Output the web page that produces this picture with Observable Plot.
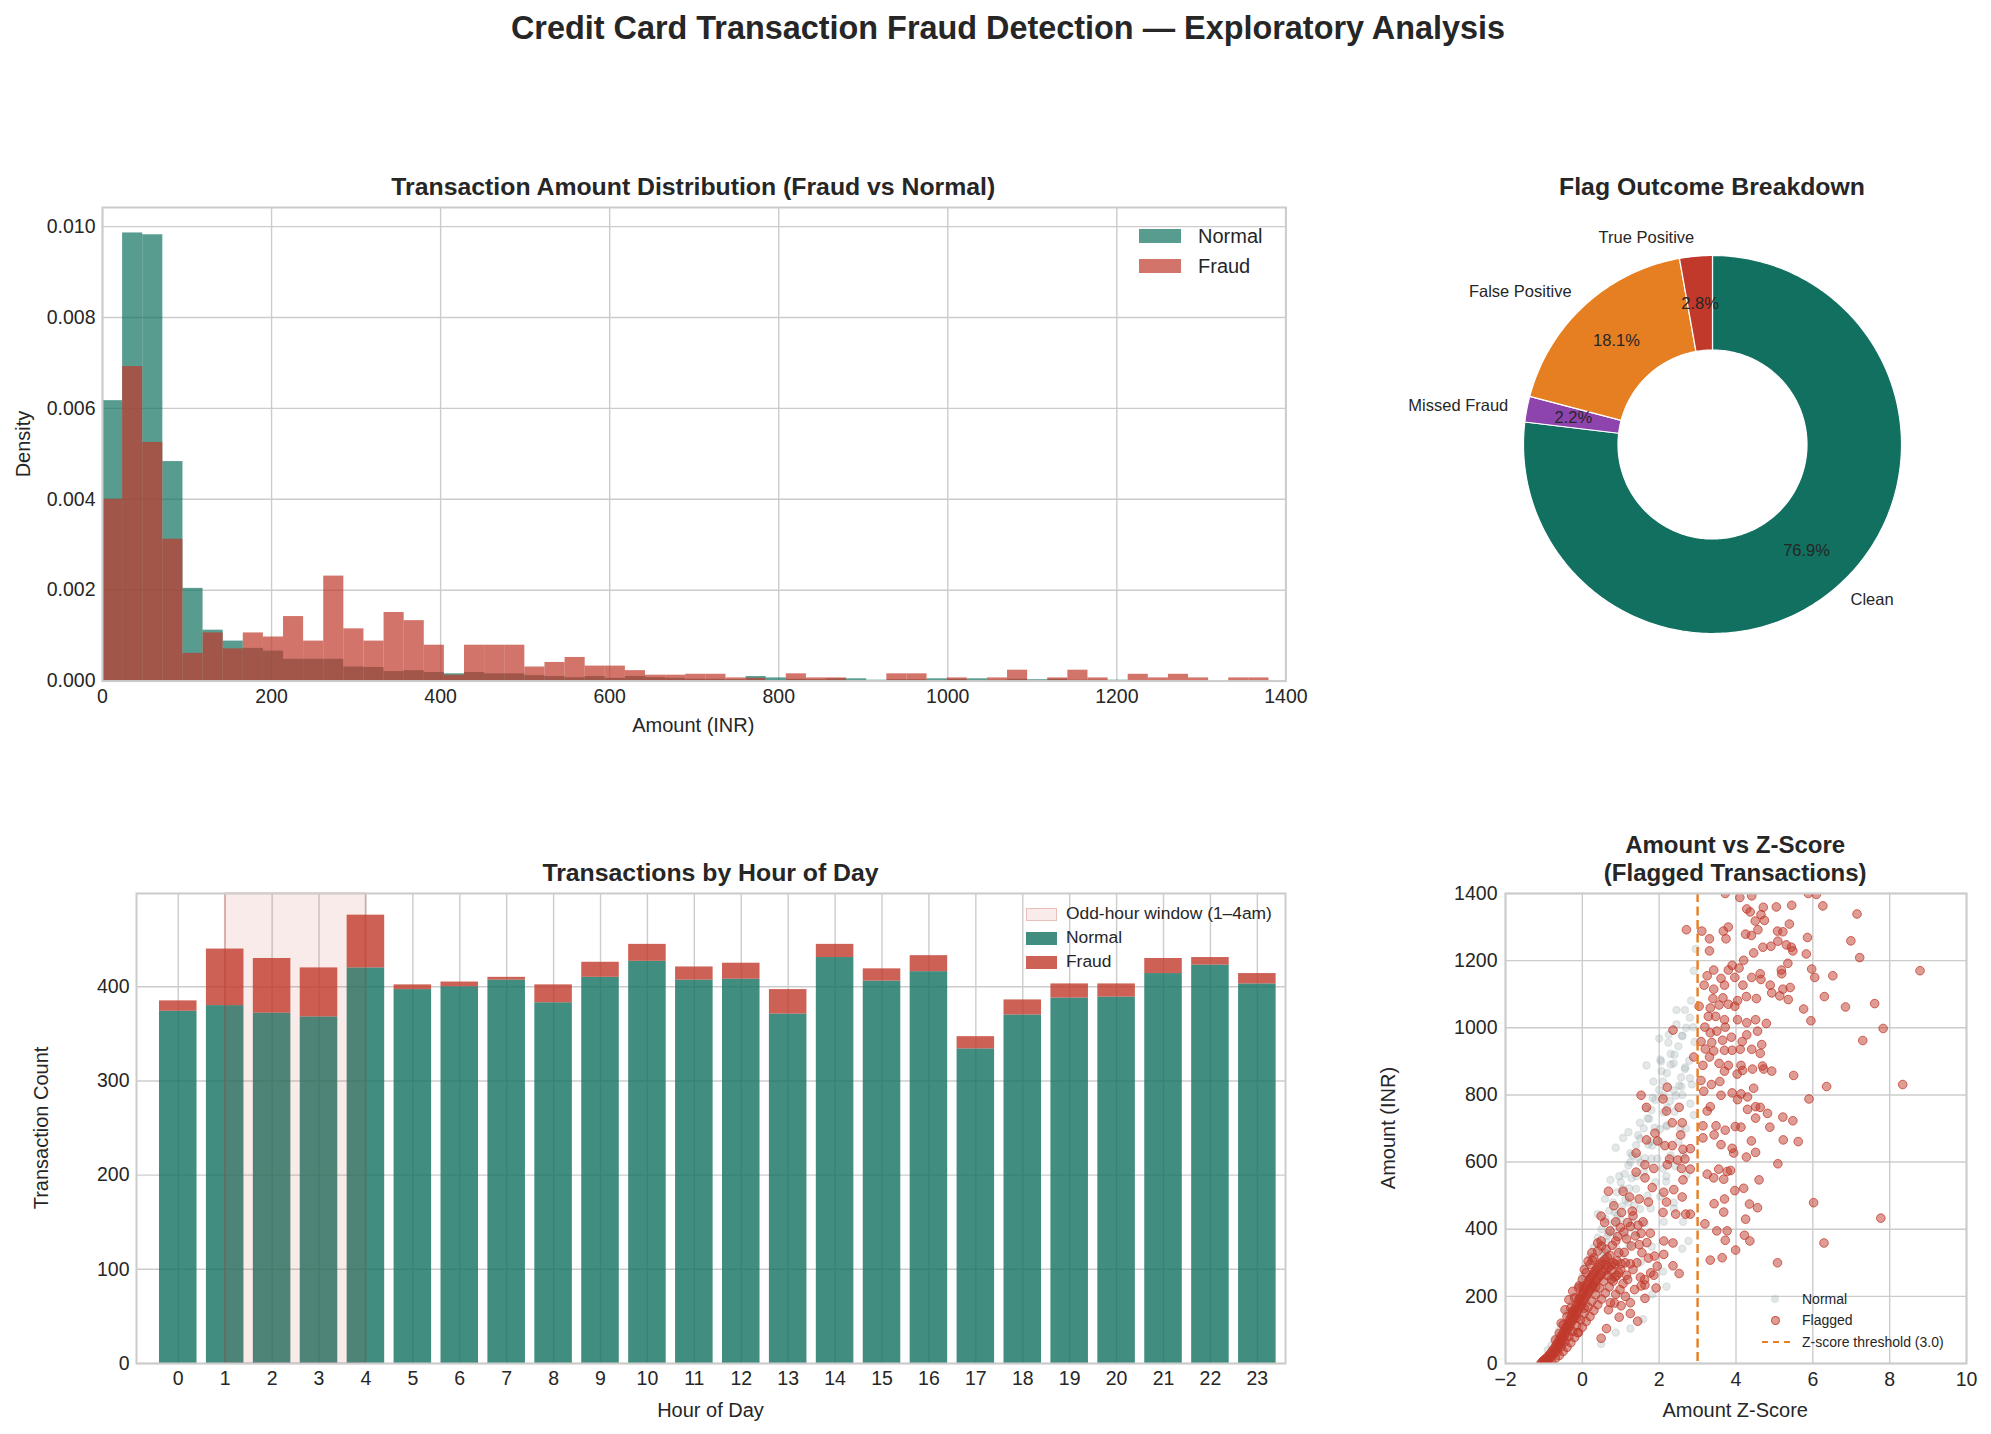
<!DOCTYPE html>
<html><head><meta charset="utf-8">
<script src="https://cdn.jsdelivr.net/npm/d3@7"></script>
<script src="https://cdn.jsdelivr.net/npm/@observablehq/plot@0.6"></script>
<style>
body{margin:0;background:#fff;}
#fig{position:relative;width:1991px;height:1434px;font-family:"Liberation Sans",Arial,Helvetica,sans-serif;color:#262626;overflow:hidden;background:#fff}
.t{position:absolute;white-space:nowrap;line-height:1;}
svg{overflow:visible}
</style></head><body><div id="fig"></div>
<script>
// ---------------- DATA ----------------
const histMax = 1380;
const histBins = 58;
const normalDensity = [0.00617,0.00986,0.00982,0.00483,0.00204,0.00112,0.00088,0.00072,0.00066,0.00048,
 0.00048,0.00048,0.00031,0.00030,0.00021,0.00023,0.00019,0.00016,0.00019,0.00016,
 0.00016,0.00012,0.00010,0.000075,0.00010,0.00006,0.00010,0.000075,0.00006,0.00004,
 0.00004,0.00003,0.00010,0.00007,0.00004,0.00003,0.00005,0.00005,0.00002,0.00003,
 0.00003,0.00005,0.00004,0.00005,0.00002,0.00004,0.00003,0.00004,0.00002,0.00002,
 0.00002,0,0,0,0,0,0,0];
const fraudDensity = [0.0040,0.00692,0.00525,0.00312,0.00061,0.00106,0.00071,0.00106,0.00097,0.00142,
 0.00088,0.00231,0.00115,0.00088,0.00151,0.00133,0.00079,0.00013,0.00079,0.00079,
 0.00079,0.00031,0.00041,0.00052,0.00033,0.00033,0.00023,0.00013,0.00013,0.00015,
 0.00015,0.00007,0.00006,0,0.00016,0.00007,0.00007,0,0,0.00016,
 0.00016,0,0.00007,0,0.00007,0.00024,0,0.00007,0.00024,0.00007,
 0,0.00015,0.00007,0.00015,0.00007,0,0.00007,0.00007];
const histXTicks = [0,200,400,600,800,1000,1200,1400];
const histYTicks = [0,0.002,0.004,0.006,0.008,0.010];

const pieLabels = ["Clean","Missed Fraud","False Positive","True Positive"];
const pieValues = [76.9,2.2,18.1,2.8];
const pieColors = ["#117060","#8e44ad","#e67e22","#c0392b"];

const hours = [0,1,2,3,4,5,6,7,8,9,10,11,12,13,14,15,16,17,18,19,20,21,22,23];
const normalCounts = [374,380,372,368,420,397,400,407,383,410,427,407,408,371,431,406,416,334,370,388,389,414,423,403];
const fraudCounts  = [11,60,58,52,56,5,5,3,19,16,18,14,17,26,14,13,17,13,16,15,14,16,8,11];
const hourYTicks = [0,100,200,300,400];
const oddHourWindow = [1,4];

const scatterXTicks = [-2,0,2,4,6,8,10];
const scatterYTicks = [0,200,400,600,800,1000,1200,1400];
const zThreshold = 3.0;
// normal transactions (z, amount)
const normalPoints = [
[2.95,1235],[2.9,1170],[2.83,1081],[2.45,1053],[2.67,1053],[2.6,977],[2.24,956],[2.0,968],[2.3,922],[2.38,894],
[2.03,905],[1.67,888],[2.06,871],[2.67,877],[2.85,831],[2.81,774],[2.58,825],[2.38,814],[2.12,797],[1.83,791],
[1.5,717],[1.74,729],[1.06,672],[1.2,689],[0.87,643],[1.44,615],[1.25,627],[0.73,547],[0.96,558],[0.59,490],
[0.4,445],[2.19,706],[1.82,649],[2.19,558],[2.38,479],[2.62,422],[2.76,365],[2.6,342],[2.19,229],[2.1,274],
[1.82,206],[1.58,132],[1.25,104],[0.87,92],[0.49,58],
[-0.9,40],[-0.8,55],[-0.7,75],[-0.6,100],[-0.5,120],[-0.4,150],[-0.3,175],[-0.2,200],[-0.1,235],[0.0,260],
[0.1,290],[0.2,320],[0.3,345],[0.4,375],[0.5,400],[0.6,430],[0.7,455],[0.8,480],[0.9,510],[1.0,540],
[1.1,565],[1.2,590],[1.3,620],[1.4,650],[1.5,670],[1.6,700],[1.7,730],[1.8,755],[1.9,785],[2.0,815],
[2.1,840],[2.2,865],[2.3,890],[2.4,920],[2.5,945],[2.6,975],[2.7,1000],[2.8,1030],
[-0.3,100],[-0.1,140],[0.1,180],[0.3,220],[0.5,260],[0.7,300],[0.9,340],[1.1,380],[1.3,420],[1.5,460],
[1.7,500],[1.9,540],[2.1,580],[2.3,620],[2.5,660],[2.7,700],[2.9,740],
[0.2,230],[0.4,280],[0.6,330],[0.8,390],[1.0,430],[1.2,480],[1.4,520],[1.6,570],[1.8,610],[2.0,660],
[2.2,710],[2.4,750],[2.6,800],[2.8,850],
[0.62,362],[0.81,418],[1.03,468],[1.22,522],[1.41,558],[1.63,612],[1.79,662],[2.02,698],[2.21,762],[2.43,798],
[2.57,852],[2.78,902],[2.92,958],
[1.02,318],[1.22,352],[1.38,392],[1.62,418],[1.78,462],[2.03,498],[2.18,542],[2.42,588],[2.63,622],[1.52,302],
[1.81,348],[2.12,422],[2.38,462],[2.72,562],
[0.33,268],[0.52,332],[0.68,388],[0.92,442],[1.12,488],[1.28,552],[1.52,598],[1.72,652],[1.88,702],[2.12,748],
[2.28,782],[2.52,828],[2.68,882],[2.88,1002],
[-0.5,60],[-0.7,40],[-0.2,130],[0.0,170],[0.2,250],[0.45,310],[0.65,380],[0.85,450],[1.05,520],[1.25,600],
[1.45,680],[1.65,760],[1.85,840],[2.05,900],[2.25,980],[2.45,1010],[1.35,470],[1.95,610],[2.55,700],[0.75,260]
];
// flagged transactions (z, amount)
const flaggedPoints = [
[3.72,1400],[4.10,1388],[4.41,1393],[5.88,1400],[6.09,1397],[6.26,1363],[5.45,1365],[5.05,1360],[4.28,1354],[4.37,1345],
[4.71,1359],[4.65,1337],[4.74,1320],[4.50,1318],[5.39,1309],[7.15,1339],[2.71,1292],[3.11,1288],[3.67,1288],[3.80,1300],
[3.74,1265],[3.31,1265],[3.31,1229],[4.25,1279],[4.40,1275],[4.57,1292],[5.08,1288],[5.22,1286],[5.09,1258],[5.86,1269],
[5.44,1240],[5.48,1229],[5.31,1247],[5.83,1220],[6.99,1259],[7.22,1209],[8.79,1170],[6.52,1155],[5.97,1175],[6.05,1150],
[6.30,1093],[7.61,1072],[6.85,1062],[5.76,1056],[5.95,1021],[7.83,998],[7.30,962],[5.50,858],[6.36,825],[8.34,831],
[5.90,788],[5.48,723],[5.22,734],[5.62,661],[5.23,666],[5.09,595],[6.02,479],[7.77,433],[6.29,359],[5.08,300],
[3.33,308],[3.64,315],[3.99,338],[4.36,365],[4.22,382],[3.72,367],[3.50,395],[3.77,395],[3.19,416],[3.43,476],
[3.68,451],[3.70,490],[3.97,515],[4.20,522],[4.56,464],[4.25,430],[4.35,475],[4.60,547],[3.25,564],[3.55,579],
[3.77,572],[3.86,575],[3.42,553],[3.68,549],[4.27,615],[4.51,629],[3.94,627],[3.90,641],[3.61,652],[3.43,681],
[3.14,672],[3.14,708],[3.48,708],[3.72,695],[3.98,706],[4.13,704],[4.40,663],[4.51,731],[4.82,745],[4.88,704],
[4.51,765],[4.63,763],[4.30,757],[4.04,786],[3.90,806],[4.13,803],[4.30,794],[4.46,820],[3.61,799],[3.33,765],
[3.25,752],[3.16,811],[3.09,843],[3.36,831],[3.58,840],[3.70,871],[4.03,862],[4.17,873],[4.43,877],[4.72,877],
[4.93,871],[4.69,886],[4.13,888],[3.80,888],[3.56,894],[3.31,913],[3.14,888],[3.20,937],[3.42,931],[3.70,933],
[3.90,933],[4.11,936],[4.41,936],[4.63,924],[4.67,950],[3.09,959],[3.37,956],[3.65,963],[3.88,972],[4.16,959],
[4.28,979],[4.56,990],[4.79,1013],[4.51,1024],[4.28,1015],[4.04,1024],[3.70,1024],[3.47,1034],[3.28,1034],[3.19,1002],
[3.33,985],[3.50,990],[3.72,1002],[3.04,1064],[3.33,1059],[3.56,1068],[3.80,1070],[3.97,1064],[3.40,1087],[3.66,1089],
[4.04,1081],[4.27,1093],[4.53,1087],[4.93,1104],[5.14,1095],[5.36,1084],[5.41,1120],[5.22,1115],[4.89,1127],[4.65,1144],
[4.41,1150],[4.18,1127],[3.97,1150],[3.80,1172],[3.61,1147],[3.42,1115],[3.17,1127],[3.25,1155],[3.42,1172],[3.70,1127],
[3.90,1186],[4.08,1178],[4.20,1201],[4.46,1223],[4.70,1240],[4.91,1243],[4.63,1161],[5.19,1161],[5.18,1172],[5.35,1192],
[2.36,993],[2.90,913],[2.21,823],[1.53,799],[1.67,763],[2.19,752],[2.52,763],[2.10,788],[2.34,717],[2.60,717],
[2.56,681],[2.15,649],[1.89,686],[1.96,663],[1.67,666],[2.34,649],[2.81,640],[2.62,638],[2.67,609],[2.48,606],
[2.27,609],[2.81,579],[2.58,581],[2.21,592],[1.86,581],[1.63,592],[1.40,627],[1.40,570],[1.63,553],[1.82,524],
[2.12,510],[2.38,518],[2.62,547],[2.60,496],[2.81,445],[2.69,445],[2.43,445],[2.10,450],[2.19,481],[1.72,481],
[1.48,490],[1.30,454],[1.58,422],[1.25,408],[1.06,513],[1.23,496],[0.68,513],[0.49,439],[1.53,388],[1.77,388],
[1.48,354],[1.72,314],[2.12,365],[2.36,359],[2.12,325],[2.36,291],[2.52,268],[1.86,263],[1.63,234],[1.53,231],
[1.63,194],[1.51,257],[1.25,297],[1.15,263],[1.06,238],[1.25,181],[1.44,126],[1.25,149],[0.96,138],[0.73,181],
[0.49,75],[0.63,104],[0.87,206],[1.01,172],[0.76,251],[1.01,297],[1.09,331],[0.87,365],[1.15,371],[0.99,405],
[0.87,422],[0.49,365],[0.40,359],[0.26,308],[0.02,229],[-0.08,194],[-0.08,231],[-0.26,155],[-0.12,92],
[0.62,340],[0.78,352],[0.92,378],[1.08,392],[1.18,420],[1.32,440],[0.72,395],[0.95,330],[1.12,300],[1.28,350],
[1.38,380],[1.45,412],[1.02,450],[0.82,470],[0.58,420],[1.18,250],[1.32,280],[1.42,300],[1.55,330],[1.68,360],
[1.88,320],[1.95,290],[1.78,270],[0.98,220],[1.12,200],[0.84,180],[0.68,160],[1.36,220],[1.62,250],[1.92,225],
[-1.08,0],[-1.05,4],[-1.02,8],[-1.0,3],[-0.98,12],[-0.96,6],[-0.94,16],[-0.92,10],[-0.9,20],[-0.88,14],
[-0.86,26],[-0.84,18],[-0.82,30],[-0.8,22],[-0.79,36],[-0.77,28],[-0.75,42],[-0.73,33],[-0.71,48],[-0.7,38],
[-0.68,55],[-0.66,44],[-0.64,60],[-0.63,50],[-0.61,68],[-0.6,57],[-0.58,74],[-0.56,62],[-0.55,82],[-0.53,70],
[-0.51,88],[-0.5,76],[-0.48,95],[-0.46,84],[-0.45,104],[-0.43,90],[-0.41,110],[-0.4,98],[-0.38,118],[-0.36,105],
[-0.35,126],[-0.33,112],[-0.31,134],[-0.3,120],[-0.28,142],[-0.26,128],[-0.25,150],[-0.23,136],[-0.21,158],[-0.2,140],
[-0.18,166],[-0.16,148],[-0.15,175],[-0.13,156],[-0.11,182],[-0.1,162],[-0.08,190],[-0.06,170],[-0.05,198],[-0.03,176],
[-0.01,205],[0.0,184],[0.02,212],[0.04,190],[0.05,220],[0.07,196],[0.09,228],[0.1,202],[0.12,236],[0.14,208],
[0.15,244],[0.17,214],[0.19,250],[0.2,220],[0.22,256],[0.24,226],[0.25,262],[0.27,232],[0.29,268],[0.3,238],
[0.32,274],[0.34,244],[0.36,280],[0.38,250],[0.4,286],[0.42,256],[0.44,292],[0.46,262],[0.48,298],[0.5,268],
[0.53,304],[0.56,274],[0.59,310],[0.62,280],[0.65,316],[0.68,286],[0.72,322],[0.76,292],[0.8,300],[0.85,296],
[0.9,306],[0.95,270],
[-0.9,2],[-0.8,8],[-0.7,15],[-0.6,24],[-0.5,36],[-0.4,48],[-0.3,62],[-0.2,78],[-0.1,92],[0.0,108],
[0.1,125],[0.2,140],[0.3,158],[0.4,175],[0.5,192],[0.6,210],[0.7,228],[0.8,245],[0.9,262],[1.0,280],
[-0.7,70],[-0.6,90],[-0.5,115],[-0.4,140],[-0.3,165],[-0.2,195],[-0.1,225],[0.0,250],[0.1,270],[0.2,295],
[0.3,315],[0.4,335],[0.5,350],[-0.35,190],[-0.25,215],[-0.45,160],[-0.55,120],[0.05,280],[0.15,305],[0.25,330],
[-0.65,35],[-0.55,50],[-0.45,65],[-0.35,80],[-0.25,96],[-0.15,112],[-0.05,130],[0.05,150],[0.15,168],[0.25,185],
[0.35,205],[0.45,225],[0.55,245],[0.65,262],[0.75,278],[0.85,258],[-0.15,135],[0.05,165],[0.35,228],[0.6,295]
];

// ---------------- STYLE ----------------
const FONT = '"Liberation Sans", Arial, Helvetica, sans-serif';
const TEAL = "#117060", RED = "#c0392b", ORANGE = "#e67e22", GRID = "#cccccc", INK = "#262626";
const fig = document.getElementById("fig");
const plain = d => String(d);

function text(s, x, y, size, opts = {}) {
  const d = document.createElement("div");
  d.className = "t";
  d.textContent = s;
  d.style.left = x + "px"; d.style.top = y + "px";
  d.style.fontSize = size + "px";
  if (opts.bold) d.style.fontWeight = "bold";
  const ax = opts.anchor === "start" ? "0" : "-50%";
  d.style.transform = opts.rotate ? `translate(-50%,-50%) rotate(${opts.rotate}deg)` : `translate(${ax},-50%)`;
  fig.appendChild(d);
  return d;
}
function box(x, y, w, h, css) {
  const d = document.createElement("div");
  d.style.position = "absolute";
  d.style.left = x + "px"; d.style.top = y + "px";
  d.style.width = w + "px"; d.style.height = h + "px";
  Object.assign(d.style, css);
  fig.appendChild(d);
  return d;
}
const ML = 90, MR = 12, MT = 12, MB = 44;
function panel(fx, fy, fw, fh, opts) {
  const p = Plot.plot(Object.assign({
    width: fw + ML + MR, height: fh + MT + MB,
    marginLeft: ML, marginRight: MR, marginTop: MT, marginBottom: MB,
    style: {fontSize: "19.5px", fontFamily: FONT, color: INK, background: "transparent", overflow: "visible"}
  }, opts));
  p.style.position = "absolute";
  p.style.left = (fx - ML) + "px";
  p.style.top = (fy - MT) + "px";
  fig.appendChild(p);
  return p;
}
const gridMarks = (xt, yt) => [
  Plot.ruleX(xt, {stroke: GRID, strokeWidth: 1.4, strokeOpacity: 1}),
  Plot.ruleY(yt, {stroke: GRID, strokeWidth: 1.4, strokeOpacity: 1})
];

// ---------------- SUPTITLE ----------------
text("Credit Card Transaction Fraud Detection — Exploratory Analysis", 1008, 28, 32.4, {bold: true});

// ---------------- HISTOGRAM ----------------
const binW = histMax / histBins;
const histData = normalDensity.map((d, i) => ({x1: i * binW, x2: (i + 1) * binW, normal: d, fraud: fraudDensity[i]}));
{
  const fx = 101.6, fy = 207, fw = 1183.4, fh = 473.6;
  panel(fx, fy, fw, fh, {
    x: {domain: [0, 1400]},
    y: {domain: [0, 0.01042]},
    marks: [
      ...gridMarks(histXTicks, histYTicks),
      Plot.rect(histData, {x1: "x1", x2: "x2", y1: 0, y2: "normal", fill: TEAL, fillOpacity: 0.7}),
      Plot.rect(histData, {x1: "x1", x2: "x2", y1: 0, y2: "fraud", fill: RED, fillOpacity: 0.7}),
      Plot.frame({stroke: GRID, strokeWidth: 2}),
      Plot.axisX(histXTicks, {tickSize: 0, tickPadding: 8, label: null, tickFormat: plain}),
      Plot.axisY(histYTicks, {tickSize: 0, tickPadding: 7, label: null, tickFormat: d3.format(".3f")})
    ]
  });
  text("Transaction Amount Distribution (Fraud vs Normal)", fx + fw / 2, 187, 24.8, {bold: true});
  text("Amount (INR)", fx + fw / 2, 725, 20);
  text("Density", 23, fy + fh / 2, 20, {rotate: -90});
  box(1139, 229, 42, 14, {background: TEAL, opacity: 0.7});
  box(1139, 259, 42, 14, {background: RED, opacity: 0.7});
  text("Normal", 1198, 236, 20, {anchor: "start"});
  text("Fraud", 1198, 266, 20, {anchor: "start"});
}

// ---------------- PIE / DONUT ----------------
{
  const cx = 1712, cy = 444, R = 189, S = 620;
  const k = (S / 2) / R;
  const total = d3.sum(pieValues);
  let acc = 0;
  const slices = pieValues.map((v, i) => {
    const a0 = acc / total * 2 * Math.PI; acc += v;
    const a1 = acc / total * 2 * Math.PI;
    return {label: pieLabels[i], value: v, a0, a1, mid: (a0 + a1) / 2, color: pieColors[i]};
  });
  const inner = 0.5;
  const ring = s => {
    const n = Math.max(4, Math.ceil((s.a1 - s.a0) / (2 * Math.PI) * 360));
    const pts = [];
    for (let j = 0; j <= n; j++) { const a = s.a0 + (s.a1 - s.a0) * j / n; pts.push({x: Math.sin(a), y: Math.cos(a)}); }
    for (let j = n; j >= 0; j--) { const a = s.a0 + (s.a1 - s.a0) * j / n; pts.push({x: inner * Math.sin(a), y: inner * Math.cos(a)}); }
    return pts;
  };
  const lab = slices.map(s => ({x: 1.1 * Math.sin(s.mid), y: 1.1 * Math.cos(s.mid), text: s.label}));
  const pct = slices.map(s => ({x: 0.75 * Math.sin(s.mid), y: 0.75 * Math.cos(s.mid), text: s.value.toFixed(1) + "%"}));
  const p = Plot.plot({
    width: S, height: S, margin: 0,
    x: {domain: [-k, k]}, y: {domain: [-k, k]},
    axis: null,
    style: {fontFamily: FONT, color: INK, background: "transparent", overflow: "visible"},
    marks: [
      ...slices.map(s => Plot.line(ring(s), {x: "x", y: "y", fill: s.color, stroke: "white", strokeWidth: 1.2, curve: "linear-closed"})),
      Plot.text(lab.filter(d => d.x > 0), {x: "x", y: "y", text: "text", textAnchor: "start", fontSize: 16.5, fill: INK}),
      Plot.text(lab.filter(d => d.x <= 0), {x: "x", y: "y", text: "text", textAnchor: "end", fontSize: 16.5, fill: INK}),
      Plot.text(pct, {x: "x", y: "y", text: "text", fontSize: 16.5, fill: INK})
    ]
  });
  p.style.position = "absolute";
  p.style.left = (cx - S / 2) + "px";
  p.style.top = (cy - S / 2) + "px";
  fig.appendChild(p);
  text("Flag Outcome Breakdown", cx, 187, 24.8, {bold: true});
}

// ---------------- HOUR BARS ----------------
const hourData = hours.map((h, i) => ({hour: h, normal: normalCounts[i], total: normalCounts[i] + fraudCounts[i]}));
{
  const fx = 136, fy = 892.6, fw = 1149, fh = 470;
  const barHalf = 0.4;
  panel(fx, fy, fw, fh, {
    x: {domain: [-0.89, 23.6]},
    y: {domain: [0, 499]},
    marks: [
      ...gridMarks(hours, hourYTicks),
      Plot.rect(hourData, {x1: d => d.hour - barHalf, x2: d => d.hour + barHalf, y1: 0, y2: "normal", fill: TEAL, fillOpacity: 0.8}),
      Plot.rect(hourData, {x1: d => d.hour - barHalf, x2: d => d.hour + barHalf, y1: "normal", y2: "total", fill: RED, fillOpacity: 0.8}),
      Plot.rect([oddHourWindow], {x1: d => d[0], x2: d => d[1], y1: 0, y2: 499, fill: RED, fillOpacity: 0.1, stroke: RED, strokeOpacity: 0.25, strokeWidth: 1.5}),
      Plot.frame({stroke: GRID, strokeWidth: 2}),
      Plot.axisX(hours, {tickSize: 0, tickPadding: 8, label: null, tickFormat: plain}),
      Plot.axisY(hourYTicks, {tickSize: 0, tickPadding: 7, label: null, tickFormat: plain})
    ]
  });
  text("Transactions by Hour of Day", fx + fw / 2, 872.5, 24.8, {bold: true});
  text("Hour of Day", fx + fw / 2, 1410, 20);
  text("Transaction Count", 41, fy + fh / 2, 20, {rotate: -90});
  box(1026, 908, 31, 12.7, {background: "rgba(192,57,43,0.1)", border: "1.5px solid rgba(192,57,43,0.25)", boxSizing: "border-box"});
  box(1026, 932, 31, 12.7, {background: TEAL, opacity: 0.8});
  box(1026, 956, 31, 12.7, {background: RED, opacity: 0.8});
  text("Odd-hour window (1–4am)", 1066, 914, 17.4, {anchor: "start"});
  text("Normal", 1066, 938.3, 17.4, {anchor: "start"});
  text("Fraud", 1066, 962.3, 17.4, {anchor: "start"});
}

// ---------------- SCATTER ----------------
{
  const fx = 1504.7, fy = 892.6, fw = 461, fh = 470;
  panel(fx, fy, fw, fh, {
    x: {domain: [-2, 10]},
    y: {domain: [0, 1400]},
    marks: [
      ...gridMarks(scatterXTicks, scatterYTicks),
      Plot.dot(normalPoints, {x: d => d[0], y: d => d[1], r: 3.6, fill: "#95a5a6", fillOpacity: 0.25, stroke: "#95a5a6", strokeOpacity: 0.2, clip: true}),
      Plot.dot(flaggedPoints, {x: d => d[0], y: d => d[1], r: 4.3, fill: RED, fillOpacity: 0.5, stroke: RED, strokeOpacity: 0.75, strokeWidth: 1, clip: true}),
      Plot.ruleX([zThreshold], {stroke: ORANGE, strokeWidth: 2.4, strokeDasharray: "9,4.5"}),
      Plot.frame({stroke: GRID, strokeWidth: 2}),
      Plot.axisX(scatterXTicks, {tickSize: 0, tickPadding: 9, label: null}),
      Plot.axisY(scatterYTicks, {tickSize: 0, tickPadding: 8, label: null, tickFormat: plain})
    ]
  });
  text("Amount vs Z-Score", fx + fw / 2, 844.5, 24, {bold: true});
  text("(Flagged Transactions)", fx + fw / 2, 872.5, 24, {bold: true});
  text("Amount Z-Score", fx + fw / 2, 1410, 20);
  text("Amount (INR)", 1388, fy + fh / 2, 20, {rotate: -90});
  box(1771, 1295, 8, 8, {borderRadius: "50%", background: "rgba(149,165,166,0.3)"});
  box(1770.5, 1315.5, 9, 9, {borderRadius: "50%", background: "rgba(192,57,43,0.5)", border: "1px solid rgba(192,57,43,0.75)", boxSizing: "border-box"});
  box(1762, 1340.5, 28, 0, {borderTop: "2.4px dashed " + ORANGE});
  text("Normal", 1802, 1299, 14, {anchor: "start"});
  text("Flagged", 1802, 1320, 14, {anchor: "start"});
  text("Z-score threshold (3.0)", 1802, 1341.5, 14, {anchor: "start"});
}
</script></body></html>
